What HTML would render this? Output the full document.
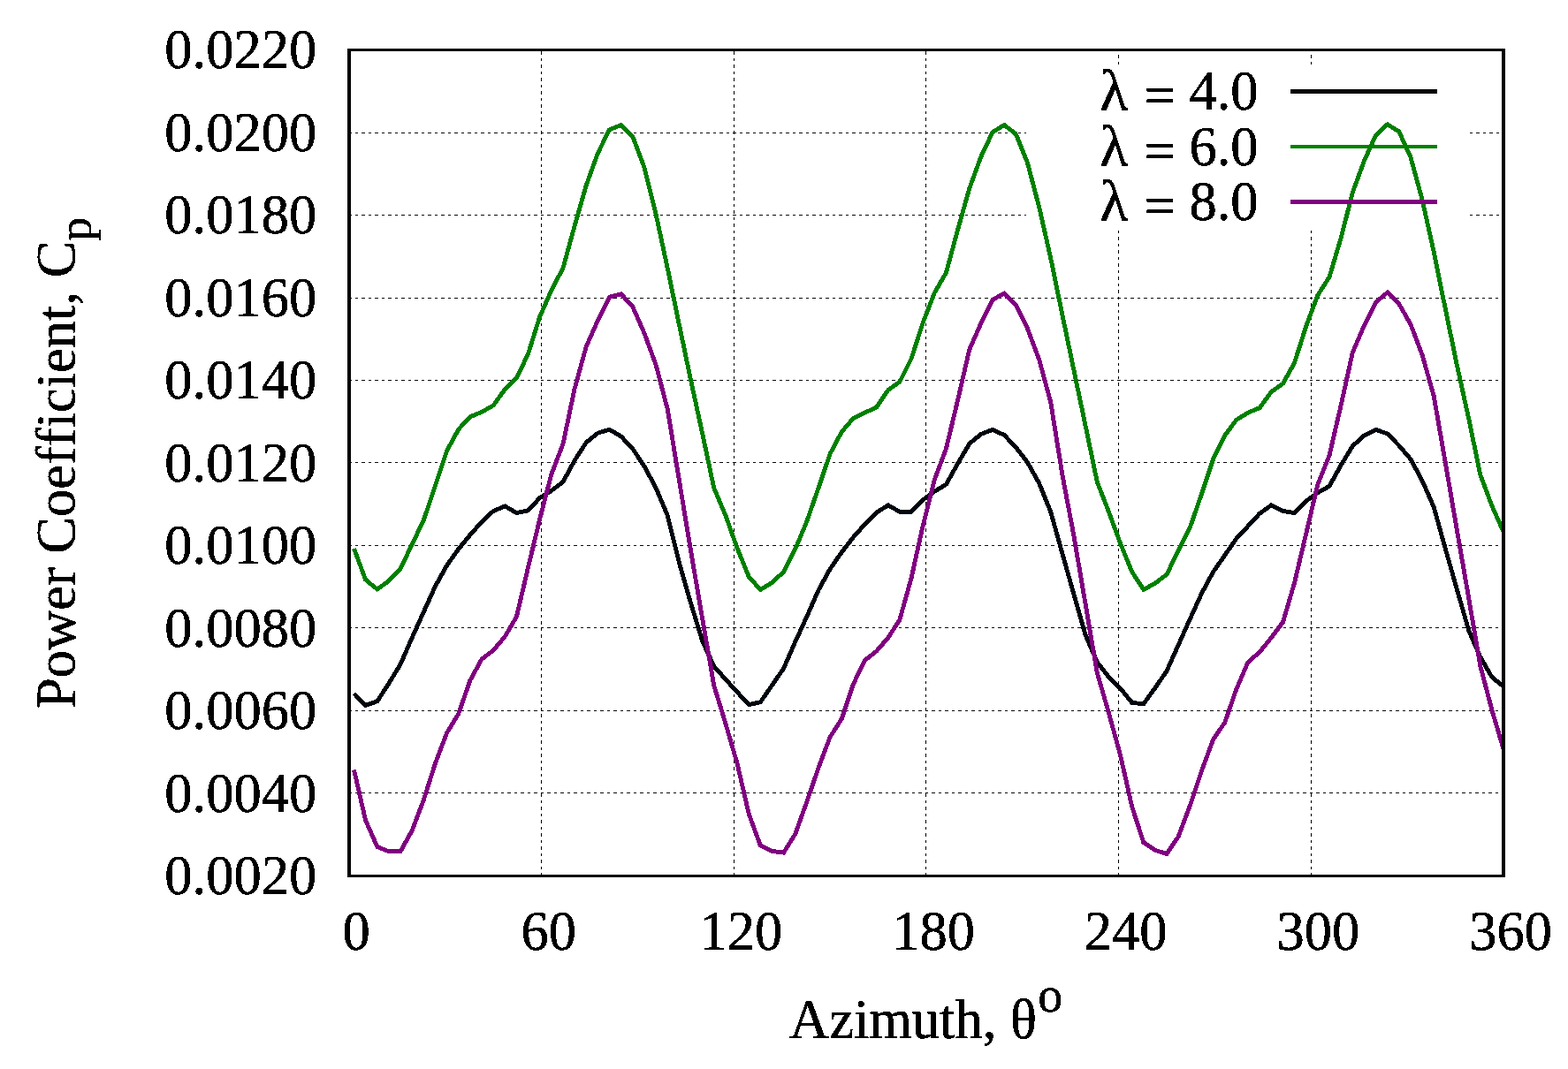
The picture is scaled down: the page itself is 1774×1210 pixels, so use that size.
<!DOCTYPE html>
<html lang="en"><head><meta charset="utf-8"><title>Power Coefficient vs Azimuth</title>
<style>
html,body{margin:0;padding:0;background:#fff;}
body{width:1774px;height:1210px;overflow:hidden;}
svg{display:block;}
text{font-family:"Liberation Serif","DejaVu Serif",serif;fill:#000;stroke:#000;stroke-width:0.5px;stroke-linejoin:round;font-variant-ligatures:none;font-kerning:none;}
.g{stroke:#000;stroke-width:1;fill:none;shape-rendering:crispEdges;}
.c{fill:none;stroke-width:4.9;stroke-linejoin:miter;stroke-linecap:butt;shape-rendering:crispEdges;}
</style></head><body>
<svg width="1774" height="1210" viewBox="0 0 1774 1210">
<rect x="0" y="0" width="1774" height="1210" fill="#fff"/>
<g class="g">
<path d="M394.30 897.5H1699.00" stroke-dasharray="3.5 4"/>
<path d="M394.30 804.5H1699.00" stroke-dasharray="3.5 4"/>
<path d="M394.30 710.5H1699.00" stroke-dasharray="3.5 4"/>
<path d="M394.30 617.5H1699.00" stroke-dasharray="3.5 4"/>
<path d="M394.30 523.5H1699.00" stroke-dasharray="3.5 4"/>
<path d="M394.30 430.5H1699.00" stroke-dasharray="3.5 4"/>
<path d="M394.30 337.5H1699.00" stroke-dasharray="3.5 4"/>
<path d="M394.30 243.5H1161.00" stroke-dasharray="3.5 4"/>
<path d="M1662.80 243.5H1699.00" stroke-dasharray="3.5 4"/>
<path d="M394.30 150.5H1161.00" stroke-dasharray="3.5 4"/>
<path d="M1662.80 150.5H1699.00" stroke-dasharray="3.5 4"/>
<path d="M612.5 991.70V58.00" stroke-dasharray="3.5 4"/>
<path d="M830.5 991.70V58.00" stroke-dasharray="3.5 4"/>
<path d="M1047.5 991.70V58.00" stroke-dasharray="3.5 4"/>
<path d="M1265.5 991.70V260.50" stroke-dasharray="3.5 4"/>
<path d="M1265.5 73.00V58.00" stroke-dasharray="3.5 4"/>
<path d="M1483.5 991.70V260.50" stroke-dasharray="3.5 4"/>
<path d="M1483.5 73.00V58.00" stroke-dasharray="3.5 4"/>
</g>
<defs><filter id="bw" x="0" y="0" width="1774" height="1210" filterUnits="userSpaceOnUse" color-interpolation-filters="sRGB"><feComponentTransfer><feFuncA type="discrete" tableValues="0 0 1 1"/></feComponentTransfer></filter></defs>
<defs><clipPath id="pc"><rect x="395.0" y="56.5" width="1306.0" height="935.0"/></clipPath></defs>
<g clip-path="url(#pc)">
<polyline class="c" stroke="#00060e" points="400.5,785.0 413.6,798.3 426.8,793.8 439.9,773.5 453.0,752.1 466.2,721.8 479.3,692.7 492.5,663.6 505.6,639.9 518.7,621.6 531.9,605.4 545.0,590.8 558.1,578.5 571.3,572.9 584.4,580.6 597.6,577.9 610.7,563.5 623.8,555.5 637.0,545.4 650.1,521.2 663.2,500.9 676.4,490.2 689.5,486.2 702.7,494.0 715.8,508.0 728.9,527.7 742.1,552.2 755.2,583.4 768.3,636.5 781.5,682.5 794.6,725.4 807.7,754.1 820.9,769.0 834.0,783.2 847.2,797.7 860.3,794.7 873.4,775.8 886.6,756.5 899.7,726.5 912.8,698.0 926.0,668.0 939.1,644.0 952.3,625.0 965.4,608.1 978.5,593.5 991.7,580.2 1004.8,571.8 1017.9,579.3 1031.1,579.3 1044.2,565.8 1057.3,556.3 1070.5,548.2 1083.6,524.7 1096.8,502.2 1109.9,491.4 1123.0,486.4 1136.2,492.5 1149.3,506.3 1162.4,523.2 1175.6,546.9 1188.7,579.3 1201.9,626.5 1215.0,673.1 1228.1,718.7 1241.3,749.5 1254.4,766.3 1267.5,779.1 1280.7,795.4 1293.8,796.7 1307.0,778.5 1320.1,759.3 1333.2,730.0 1346.4,700.5 1359.5,671.7 1372.6,647.3 1385.8,628.4 1398.9,609.5 1412.0,595.5 1425.2,581.2 1438.3,571.8 1451.5,578.3 1464.6,580.7 1477.7,567.2 1490.9,557.7 1504.0,550.3 1517.1,526.6 1530.3,504.9 1543.4,493.0 1556.6,486.3 1569.7,491.0 1582.8,504.3 1596.0,519.8 1609.1,544.2 1622.2,573.9 1635.4,621.6 1648.5,667.6 1661.7,713.6 1674.8,743.7 1687.9,766.4 1701.1,777.2"/>
<polyline class="c" stroke="#008000" points="400.5,621.0 413.6,656.2 426.8,667.0 439.9,657.5 453.0,643.7 466.2,616.2 479.3,588.8 492.5,549.6 505.6,510.3 518.7,486.0 531.9,471.8 545.0,466.4 558.1,458.9 571.3,440.7 584.4,428.1 597.6,400.4 610.7,358.5 623.8,328.7 637.0,303.4 650.1,255.8 663.2,209.8 676.4,173.3 689.5,146.9 702.7,141.5 715.8,154.4 728.9,189.5 742.1,242.3 755.2,303.5 768.3,367.0 781.5,430.0 794.6,490.4 807.7,552.3 820.9,583.4 834.0,620.3 847.2,652.8 860.3,667.6 873.4,659.5 886.6,647.3 899.7,621.6 912.8,590.2 926.0,552.3 939.1,513.7 952.3,488.7 965.4,473.5 978.5,467.1 991.7,461.0 1004.8,441.5 1017.9,432.2 1031.1,405.8 1044.2,365.2 1057.3,331.4 1070.5,308.5 1083.6,260.0 1096.8,213.2 1109.9,177.3 1123.0,149.6 1136.2,141.5 1149.3,151.6 1162.4,184.1 1175.6,234.2 1188.7,292.0 1201.9,356.4 1215.0,419.3 1228.1,482.0 1241.3,545.5 1254.4,579.3 1267.5,614.9 1280.7,647.3 1293.8,667.4 1307.0,660.2 1320.1,650.1 1333.2,623.0 1346.4,597.0 1359.5,559.0 1372.6,519.8 1385.8,492.8 1398.9,475.2 1412.0,467.1 1425.2,461.6 1438.3,443.5 1451.5,434.2 1464.6,410.5 1477.7,369.3 1490.9,334.1 1504.0,313.5 1517.1,269.5 1530.3,217.9 1543.4,182.1 1556.6,153.0 1569.7,140.8 1582.8,148.9 1596.0,178.0 1609.1,226.1 1622.2,285.0 1635.4,350.3 1648.5,413.9 1661.7,473.8 1674.8,537.4 1687.9,572.6 1701.1,602.3"/>
<polyline class="c" stroke="#800080" points="400.5,871.3 413.6,928.6 426.8,958.4 439.9,963.8 453.0,963.8 466.2,940.1 479.3,905.5 492.5,864.0 505.6,829.5 518.7,808.0 531.9,770.1 545.0,746.1 558.1,736.2 571.3,720.4 584.4,698.1 597.6,641.9 610.7,587.5 623.8,537.0 637.0,502.5 650.1,440.0 663.2,392.4 676.4,362.7 689.5,336.3 702.7,332.8 715.8,347.2 728.9,377.0 742.1,413.0 755.2,463.0 768.3,543.0 781.5,623.1 794.6,700.0 807.7,775.7 820.9,819.0 834.0,864.0 847.2,921.2 860.3,957.0 873.4,963.4 886.6,965.1 899.7,944.2 912.8,907.6 926.0,869.1 939.1,834.3 952.3,813.6 965.4,774.4 978.5,747.4 991.7,737.0 1004.8,721.8 1017.9,701.5 1031.1,654.1 1044.2,595.0 1057.3,542.8 1070.5,507.6 1083.6,453.0 1096.8,395.6 1109.9,365.9 1123.0,339.3 1136.2,332.0 1149.3,345.2 1162.4,371.6 1175.6,406.8 1188.7,455.0 1201.9,537.4 1215.0,607.0 1228.1,683.9 1241.3,761.5 1254.4,806.9 1267.5,854.5 1280.7,913.1 1293.8,953.6 1307.0,962.4 1320.1,966.5 1333.2,946.9 1346.4,911.7 1359.5,872.5 1372.6,837.0 1385.8,817.7 1398.9,779.8 1412.0,749.5 1425.2,738.0 1438.3,721.8 1451.5,704.2 1464.6,659.5 1477.7,604.0 1490.9,548.4 1504.0,515.6 1517.1,458.9 1530.3,399.0 1543.4,368.5 1556.6,342.0 1569.7,331.1 1582.8,344.0 1596.0,367.2 1609.1,401.8 1622.2,448.2 1635.4,524.5 1648.5,600.7 1661.7,677.1 1674.8,753.8 1687.9,803.6 1701.1,848.2"/>
</g>
<rect x="1460.0" y="101" width="166.0" height="5" fill="#00060e" shape-rendering="crispEdges"/>
<rect x="1460.0" y="164" width="166.0" height="4" fill="#008000" shape-rendering="crispEdges"/>
<rect x="1460.0" y="226" width="166.0" height="5" fill="#800080" shape-rendering="crispEdges"/>
<g fill="#000" shape-rendering="crispEdges">
<rect x="393" y="55" width="1310" height="3"/>
<rect x="393" y="990" width="1310" height="3"/>
<rect x="393" y="55" width="4" height="938"/>
<rect x="1699" y="55" width="4" height="938"/>
</g>
<g font-size="62.5" filter="url(#bw)">
<text x="358.20" y="1012.10" text-anchor="end">0.0020</text>
<text x="358.20" y="918.60" text-anchor="end">0.0040</text>
<text x="358.20" y="825.10" text-anchor="end">0.0060</text>
<text x="358.20" y="731.60" text-anchor="end">0.0080</text>
<text x="358.20" y="638.10" text-anchor="end">0.0100</text>
<text x="358.20" y="544.60" text-anchor="end">0.0120</text>
<text x="358.20" y="451.10" text-anchor="end">0.0140</text>
<text x="358.20" y="357.60" text-anchor="end">0.0160</text>
<text x="358.20" y="264.10" text-anchor="end">0.0180</text>
<text x="358.20" y="170.60" text-anchor="end">0.0200</text>
<text x="358.20" y="77.10" text-anchor="end">0.0220</text>
<text x="403.00" y="1075.10" text-anchor="middle">0</text>
<text x="620.67" y="1075.10" text-anchor="middle">60</text>
<text x="838.33" y="1075.10" text-anchor="middle">120</text>
<text x="1056.00" y="1075.10" text-anchor="middle">180</text>
<text x="1273.67" y="1075.10" text-anchor="middle">240</text>
<text x="1491.33" y="1075.10" text-anchor="middle">300</text>
<text x="1709.00" y="1075.10" text-anchor="middle">360</text>
<text x="1423.50" y="124.10" text-anchor="end"><tspan dy="4.9">=</tspan><tspan dy="-4.9"> 4.0</tspan></text>
<text x="1244.20" y="124.10" font-size="66">λ</text>
<text x="1423.50" y="186.60" text-anchor="end"><tspan dy="4.9">=</tspan><tspan dy="-4.9"> 6.0</tspan></text>
<text x="1244.20" y="186.60" font-size="66">λ</text>
<text x="1423.50" y="249.10" text-anchor="end"><tspan dy="4.9">=</tspan><tspan dy="-4.9"> 8.0</tspan></text>
<text x="1244.20" y="249.10" font-size="66">λ</text>
<text x="893" y="1174.9">Azimuth, θ<tspan font-size="56" dx="1.4" dy="-30.3">o</tspan></text>
<text transform="translate(84.6,802.0) rotate(-90)">Power Coefficient, C<tspan font-size="53.5" dy="18.4">p</tspan></text>
</g>
</svg>
</body></html>
